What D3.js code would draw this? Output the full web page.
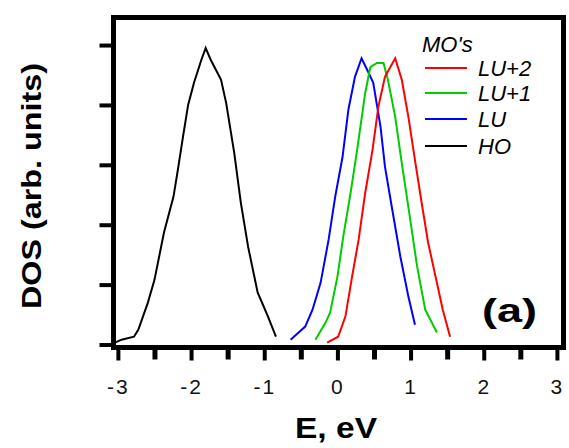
<!DOCTYPE html>
<html>
<head>
<meta charset="utf-8">
<script src="https://cdn.jsdelivr.net/npm/d3@7"></script>
<style>
  html, body { margin: 0; padding: 0; background: #fff; }
  svg { display: block; font-family: "Liberation Sans", Arial, sans-serif; }
</style>
</head>
<body>
<svg id="chart" width="569" height="448"></svg>
<script>
// ---- data ----
const xTickValues = [-3, -2, -1, 0, 1, 2, 3];
const xMinorTicks = [-2.5, -1.5, -0.5, 0.5, 1.5, 2.5];
const yTickValues = [0, 1, 2, 3, 4, 5];

const hoE   = [-3.04, -2.95, -2.78, -2.72, -2.59, -2.50, -2.37, -2.24, -2.18, -2.11, -2.04, -1.96, -1.86, -1.80, -1.73, -1.59, -1.52, -1.41, -1.32, -1.22, -1.09, -0.95, -0.84];
const hoDos = [0.03, 0.08, 0.13, 0.25, 0.70, 1.08, 1.87, 2.47, 2.92, 3.47, 4.00, 4.37, 4.75, 4.95, 4.75, 4.42, 4.03, 3.20, 2.37, 1.63, 0.87, 0.47, 0.13];

const luE   = [-0.64, -0.53, -0.44, -0.34, -0.23, -0.12, -0.03, 0.07, 0.15, 0.24, 0.33, 0.41, 0.49, 0.59, 0.65, 0.75, 0.86, 0.97, 1.06];
const luDos = [0.08, 0.20, 0.30, 0.58, 1.03, 1.75, 2.47, 3.13, 3.92, 4.47, 4.78, 4.58, 4.37, 3.63, 2.97, 2.25, 1.47, 0.80, 0.33];

const lu1E   = [-0.30, -0.16, -0.10, 0.00, 0.08, 0.18, 0.27, 0.38, 0.45, 0.54, 0.63, 0.69, 0.79, 0.88, 0.99, 1.09, 1.20, 1.36];
const lu1Dos = [0.08, 0.37, 0.53, 1.13, 1.80, 2.53, 3.25, 4.20, 4.63, 4.70, 4.70, 4.42, 3.80, 3.03, 2.13, 1.30, 0.58, 0.20];

const lu2E   = [-0.14, 0.01, 0.11, 0.20, 0.29, 0.38, 0.48, 0.56, 0.65, 0.79, 0.88, 0.97, 1.06, 1.16, 1.24, 1.36, 1.44, 1.54];
const lu2Dos = [0.03, 0.13, 0.47, 1.13, 1.75, 2.53, 3.25, 3.97, 4.47, 4.78, 4.42, 3.80, 3.08, 2.30, 1.70, 1.03, 0.58, 0.13];

const seriesNames  = ["LU+2", "LU+1", "LU", "HO"];
const seriesColors = ["#ff0000", "#00cc00", "#0000ff", "#000000"];
const seriesE      = [lu2E, lu1E, luE, hoE];
const seriesDos    = [lu2Dos, lu1Dos, luDos, hoDos];

// ---- layout ----
const svg = d3.select("#chart");
const pLeft = 113.5, pRight = 563.5, pTop = 17.5, pBottom = 347.5;

const x = d3.scaleLinear().domain([-3.06, 3.09]).range([pLeft, pRight]);
const y = d3.scaleLinear().domain([-0.05, 5.46]).range([pBottom, pTop]);

// curves
const line = d3.line().x(d => x(d[0])).y(d => y(d[1]));
const drawOrder = [3, 2, 1, 0];
drawOrder.forEach(i => {
  const pts = seriesE[i].map((e, k) => [e, seriesDos[i][k]]);
  svg.append("path")
    .attr("d", line(pts))
    .attr("fill", "none")
    .attr("stroke", seriesColors[i])
    .attr("stroke-width", 2)
    .attr("stroke-linejoin", "miter");
});

// frame
svg.append("rect")
  .attr("x", pLeft).attr("y", pTop)
  .attr("width", pRight - pLeft).attr("height", pBottom - pTop)
  .attr("fill", "none").attr("stroke", "#000").attr("stroke-width", 5);

// x axis ticks
const xAxis = d3.axisBottom(x).tickValues(xTickValues).tickSize(13).tickPadding(18)
  .tickFormat(d => d < 0 ? "-" + Math.abs(d) : String(d));
const gx = svg.append("g").attr("transform", `translate(0,${pBottom})`).call(xAxis);
gx.select(".domain").remove();
gx.selectAll(".tick line").attr("stroke", "#000").attr("stroke-width", 4);
gx.selectAll(".tick text")
  .attr("fill", "#111").attr("font-size", 21).attr("letter-spacing", "2px")
  .attr("dy", "0.71em").attr("y", 32);

const xMinor = d3.axisBottom(x).tickValues(xMinorTicks).tickSize(12).tickFormat("");
const gxm = svg.append("g").attr("transform", `translate(0,${pBottom})`).call(xMinor);
gxm.select(".domain").remove();
gxm.selectAll(".tick line").attr("stroke", "#000").attr("stroke-width", 5);

// y axis ticks
const yAxis = d3.axisLeft(y).tickValues(yTickValues).tickSize(14).tickFormat("");
const gy = svg.append("g").attr("transform", `translate(${pLeft},0)`).call(yAxis);
gy.select(".domain").remove();
gy.selectAll(".tick line").attr("stroke", "#000").attr("stroke-width", 4);

// axis titles
svg.append("text")
  .attr("x", 336).attr("y", 438)
  .attr("text-anchor", "middle")
  .attr("font-size", 29).attr("font-weight", "bold")
  .attr("textLength", 82).attr("lengthAdjust", "spacingAndGlyphs")
  .text("E, eV");

svg.append("text")
  .attr("transform", "translate(41,186) rotate(-90)")
  .attr("text-anchor", "middle")
  .attr("font-size", 28).attr("font-weight", "bold")
  .attr("textLength", 246).attr("lengthAdjust", "spacingAndGlyphs")
  .text("DOS (arb. units)");

// panel label
svg.append("text")
  .attr("x", 482).attr("y", 322)
  .attr("font-size", 34).attr("font-weight", "bold")
  .attr("textLength", 55).attr("lengthAdjust", "spacingAndGlyphs")
  .text("(a)");

// legend
svg.append("text")
  .attr("x", 422).attr("y", 52)
  .attr("font-size", 22).attr("font-style", "italic")
  .text("MO's");

const legY = [68, 93, 119, 146];
seriesNames.forEach((name, i) => {
  svg.append("line")
    .attr("x1", 425).attr("x2", 467)
    .attr("y1", legY[i]).attr("y2", legY[i])
    .attr("stroke", seriesColors[i]).attr("stroke-width", 2);
  svg.append("text")
    .attr("x", 478).attr("y", legY[i] + 8)
    .attr("font-size", 22).attr("font-style", "italic")
    .text(name);
});
</script>
</body>
</html>
